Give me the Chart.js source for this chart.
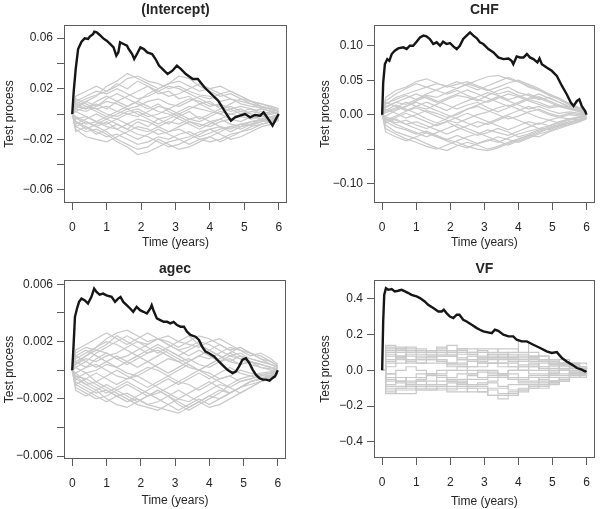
<!DOCTYPE html>
<html>
<head>
<meta charset="utf-8">
<script src="https://cdn.jsdelivr.net/npm/chart.js@4.4.0/dist/chart.umd.min.js"></script>
<style>
  html, body { margin: 0; padding: 0; background: #fff; }
  #wrap { position: relative; width: 600px; height: 509px; }
  canvas { position: absolute; }
</style>
</head>
<body>
<div id="wrap">
  <canvas id="c-intercept" width="300" height="255" style="left:0;top:0"></canvas>
  <canvas id="c-chf" width="300" height="255" style="left:300px;top:0"></canvas>
  <canvas id="c-agec" width="300" height="254" style="left:0;top:255px"></canvas>
  <canvas id="c-vf" width="300" height="254" style="left:300px;top:255px"></canvas>
</div>
<script>
// --- shared axis values ---
const xTicks = [0, 1, 2, 3, 4, 5, 6];
const xTickLabels = ['0', '1', '2', '3', '4', '5', '6'];
// time grid of the simulated (gray) processes
const simTime = [0, 0.1, 0.4, 0.7, 1.0, 1.3, 1.6, 1.9, 2.2, 2.5, 2.8, 3.1, 3.4, 3.7, 4.0, 4.3, 4.6, 4.9, 5.2, 5.5, 5.8, 6.0];

// --- (Intercept) ---
const interceptObsTime = [0, 0.04, 0.1, 0.17, 0.27, 0.36, 0.46, 0.51, 0.61, 0.64, 0.71, 0.8, 0.9, 1.0, 1.1, 1.2, 1.28, 1.34, 1.39, 1.49, 1.59, 1.64, 1.74, 1.8, 1.88, 1.98, 2.08, 2.18, 2.32, 2.42, 2.52, 2.67, 2.77, 2.91, 3.04, 3.16, 3.3, 3.5, 3.65, 3.84, 4.04, 4.24, 4.45, 4.61, 4.73, 4.87, 5.02, 5.17, 5.31, 5.46, 5.56, 5.66, 5.76, 5.82, 5.92, 6.0];
const interceptObsValue = [0, 0.017, 0.0355, 0.0513, 0.0571, 0.0597, 0.0592, 0.0611, 0.0632, 0.065, 0.0645, 0.0624, 0.0597, 0.0579, 0.0553, 0.0526, 0.0461, 0.0487, 0.0566, 0.0553, 0.054, 0.0513, 0.0474, 0.0434, 0.0474, 0.0526, 0.0513, 0.0487, 0.0474, 0.0434, 0.0382, 0.0342, 0.0316, 0.0342, 0.0382, 0.0355, 0.0316, 0.0276, 0.0276, 0.0211, 0.0158, 0.0105, 0.0013, -0.0053, -0.0026, -0.0013, 0, -0.0026, -0.0008, -0.0013, 0.0013, -0.0026, -0.0066, -0.0092, -0.0039, 0];
const interceptSims = [
  [0, 0.008, 0.012, 0.015, 0.018, 0.022, 0.028, 0.030, 0.026, 0.024, 0.020, 0.022, 0.018, 0.015, 0.014, 0.010, 0.012, 0.008, 0.006, 0.005, 0.004, 0.002],
  [0, -0.006, -0.010, -0.014, -0.018, -0.016, -0.020, -0.024, -0.022, -0.018, -0.020, -0.016, -0.014, -0.018, -0.015, -0.012, -0.010, -0.008, -0.009, -0.006, -0.004, -0.002],
  [0, 0.004, 0.002, 0.006, 0.010, 0.008, 0.004, 0.006, 0.010, 0.012, 0.008, 0.006, 0.010, 0.014, 0.012, 0.016, 0.018, 0.014, 0.010, 0.008, 0.006, 0.004],
  [0, -0.003, -0.008, -0.006, -0.002, -0.004, -0.008, -0.012, -0.014, -0.010, -0.006, -0.008, -0.004, -0.002, -0.006, -0.004, -0.008, -0.010, -0.006, -0.005, -0.006, -0.003],
  [0, 0.010, 0.014, 0.018, 0.016, 0.020, 0.016, 0.012, 0.014, 0.018, 0.022, 0.020, 0.016, 0.012, 0.008, 0.006, 0.002, 0.004, 0, -0.002, 0.001, 0],
  [0, -0.010, -0.014, -0.012, -0.016, -0.022, -0.026, -0.032, -0.030, -0.026, -0.022, -0.020, -0.018, -0.014, -0.012, -0.016, -0.020, -0.018, -0.014, -0.010, -0.008, -0.005],
  [0, 0.002, 0.006, 0.004, 0, -0.002, 0.002, 0.004, 0, -0.004, -0.002, 0.002, 0.006, 0.004, 0.002, 0, 0.004, 0.006, 0.004, 0.002, 0, 0.001],
  [0, 0.006, 0.010, 0.014, 0.022, 0.026, 0.032, 0.028, 0.024, 0.020, 0.024, 0.030, 0.028, 0.022, 0.018, 0.014, 0.016, 0.012, 0.010, 0.008, 0.005, 0.003],
  [0, -0.004, -0.002, -0.006, -0.010, -0.012, -0.008, -0.004, -0.006, -0.010, -0.014, -0.012, -0.016, -0.020, -0.022, -0.020, -0.016, -0.014, -0.010, -0.008, -0.006, -0.004],
  [0, 0.012, 0.008, 0.004, 0.006, 0.002, 0, -0.002, 0.002, 0.006, 0.004, 0.008, 0.012, 0.010, 0.006, 0.008, 0.004, 0, 0.002, 0.004, 0.002, 0],
  [0, -0.012, -0.018, -0.020, -0.022, -0.018, -0.014, -0.010, -0.012, -0.016, -0.014, -0.010, -0.006, -0.008, -0.010, -0.006, -0.004, -0.002, -0.004, -0.002, -0.003, -0.001],
  [0, 0.006, 0.004, 0.008, 0.004, 0.010, 0.014, 0.018, 0.022, 0.018, 0.014, 0.016, 0.020, 0.024, 0.020, 0.016, 0.012, 0.010, 0.008, 0.006, 0.004, 0.002],
  [0, -0.008, -0.004, 0, -0.004, -0.008, -0.012, -0.016, -0.018, -0.022, -0.026, -0.024, -0.020, -0.016, -0.012, -0.010, -0.012, -0.008, -0.006, -0.004, -0.002, -0.001],
  [0, 0.002, -0.002, -0.006, -0.008, -0.004, 0, 0.002, -0.002, 0, 0.004, 0, -0.004, -0.006, -0.002, 0.002, 0, -0.002, 0.002, 0, 0.002, 0],
  [0, 0.014, 0.018, 0.022, 0.018, 0.024, 0.020, 0.026, 0.022, 0.016, 0.018, 0.012, 0.014, 0.008, 0.010, 0.004, 0.006, 0.002, 0.004, 0, 0.002, 0],
  [0, -0.014, -0.010, -0.016, -0.012, -0.008, -0.012, -0.006, -0.010, -0.004, -0.008, -0.002, -0.006, -0.010, -0.006, -0.010, -0.014, -0.010, -0.008, -0.006, -0.004, -0.002],
  [0, 0.004, 0.010, 0.006, 0.012, 0.016, 0.012, 0.008, 0.004, 0.008, 0.002, -0.002, 0.002, -0.004, 0, 0.004, 0.008, 0.012, 0.008, 0.004, 0.002, 0.001],
  [0, -0.002, -0.006, -0.010, -0.006, -0.012, -0.016, -0.020, -0.016, -0.012, -0.016, -0.020, -0.024, -0.020, -0.018, -0.014, -0.010, -0.012, -0.008, -0.004, -0.005, -0.002],
  [0, 0.008, 0.004, 0.010, 0.014, 0.010, 0.006, 0.010, 0.016, 0.020, 0.024, 0.026, 0.022, 0.018, 0.020, 0.022, 0.018, 0.014, 0.010, 0.006, 0.003, 0.002],
  [0, -0.006, -0.012, -0.008, -0.004, 0, 0.004, 0, -0.004, -0.008, -0.004, 0, 0.004, 0.008, 0.004, 0, -0.004, -0.006, -0.002, -0.004, -0.002, 0],
  [0, 0.010, 0.006, 0.002, -0.002, 0.002, 0.006, 0.010, 0.006, 0.002, 0, -0.004, -0.008, -0.012, -0.008, -0.004, 0, 0.002, 0, -0.002, 0, 0.001],
  [0, -0.010, -0.006, -0.010, -0.014, -0.020, -0.024, -0.028, -0.026, -0.020, -0.024, -0.028, -0.026, -0.022, -0.018, -0.022, -0.018, -0.014, -0.012, -0.008, -0.006, -0.003]
];
const interceptYTicks = [-0.06, -0.04, -0.02, 0, 0.02, 0.04, 0.06];
const interceptYLabels = ['\u22120.06', '', '\u22120.02', '', '0.02', '', '0.06'];

// --- CHF ---
const chfObsTime = [0, 0.03, 0.08, 0.15, 0.21, 0.28, 0.37, 0.47, 0.62, 0.72, 0.81, 0.91, 1.01, 1.11, 1.21, 1.3, 1.4, 1.5, 1.6, 1.7, 1.79, 1.89, 1.99, 2.09, 2.19, 2.28, 2.38, 2.48, 2.58, 2.68, 2.78, 2.87, 2.97, 3.12, 3.27, 3.41, 3.56, 3.71, 3.8, 3.85, 3.95, 4.05, 4.15, 4.25, 4.34, 4.44, 4.56, 4.62, 4.69, 4.83, 4.98, 5.13, 5.28, 5.42, 5.54, 5.62, 5.72, 5.79, 5.86, 5.96, 6.0];
const chfObsValue = [0, 0.0466, 0.0733, 0.0806, 0.0781, 0.0879, 0.0927, 0.0961, 0.0976, 0.0951, 0.1, 0.1, 0.1058, 0.112, 0.1146, 0.1136, 0.1097, 0.1024, 0.1049, 0.1, 0.1058, 0.1024, 0.1039, 0.099, 0.0951, 0.1, 0.1097, 0.1146, 0.1194, 0.1146, 0.1107, 0.1049, 0.1024, 0.0951, 0.0903, 0.083, 0.0806, 0.0815, 0.0781, 0.0733, 0.0845, 0.083, 0.083, 0.0879, 0.083, 0.0806, 0.0757, 0.0815, 0.0733, 0.0684, 0.0636, 0.0563, 0.0417, 0.0296, 0.0175, 0.0126, 0.0199, 0.0223, 0.0126, 0.0053, 0];
const chfSims = [
  [0, 0.015, 0.025, 0.030, 0.035, 0.040, 0.045, 0.042, 0.038, 0.044, 0.050, 0.055, 0.057, 0.052, 0.048, 0.040, 0.035, 0.030, 0.022, 0.015, 0.010, 0.005],
  [0, -0.015, -0.025, -0.030, -0.035, -0.042, -0.048, -0.052, -0.045, -0.040, -0.044, -0.050, -0.046, -0.040, -0.035, -0.030, -0.032, -0.025, -0.020, -0.015, -0.010, -0.005],
  [0, 0.005, 0.010, 0.018, 0.012, 0.008, 0.015, 0.022, 0.028, 0.025, 0.020, 0.028, 0.035, 0.040, 0.032, 0.028, 0.022, 0.025, 0.018, 0.012, 0.008, 0.003],
  [0, -0.005, -0.012, -0.008, -0.015, -0.020, -0.014, -0.010, -0.018, -0.024, -0.030, -0.026, -0.020, -0.025, -0.032, -0.028, -0.022, -0.018, -0.014, -0.010, -0.008, -0.004],
  [0, 0.020, 0.030, 0.038, 0.045, 0.040, 0.035, 0.030, 0.035, 0.028, 0.022, 0.018, 0.024, 0.030, 0.026, 0.020, 0.015, 0.010, 0.012, 0.008, 0.004, 0],
  [0, -0.020, -0.028, -0.035, -0.040, -0.046, -0.050, -0.044, -0.038, -0.032, -0.028, -0.022, -0.026, -0.030, -0.024, -0.018, -0.012, -0.016, -0.010, -0.006, -0.008, -0.003],
  [0, 0.008, 0.002, -0.005, 0, 0.006, 0.002, -0.004, 0, 0.008, 0.012, 0.006, 0, -0.006, -0.002, 0.004, 0.008, 0.002, -0.002, 0.002, 0, 0.001],
  [0, -0.008, -0.002, 0.005, 0.010, 0.004, -0.002, -0.008, -0.012, -0.006, 0, 0.004, 0.010, 0.014, 0.008, 0.002, -0.004, -0.008, -0.004, -0.006, -0.003, -0.001],
  [0, 0.012, 0.018, 0.015, 0.022, 0.028, 0.025, 0.032, 0.038, 0.045, 0.040, 0.035, 0.040, 0.046, 0.050, 0.044, 0.038, 0.030, 0.024, 0.016, 0.010, 0.004],
  [0, -0.010, -0.018, -0.022, -0.028, -0.024, -0.030, -0.036, -0.040, -0.046, -0.050, -0.052, -0.048, -0.042, -0.036, -0.030, -0.024, -0.020, -0.015, -0.012, -0.008, -0.004],
  [0, 0.003, 0.008, 0.012, 0.020, 0.026, 0.020, 0.014, 0.008, 0.014, 0.018, 0.010, 0.004, 0.010, 0.016, 0.022, 0.018, 0.012, 0.014, 0.008, 0.006, 0.002],
  [0, -0.003, -0.008, -0.014, -0.010, -0.016, -0.022, -0.028, -0.022, -0.016, -0.010, -0.014, -0.008, -0.002, -0.008, -0.014, -0.020, -0.016, -0.012, -0.008, -0.004, -0.002],
  [0, 0.018, 0.012, 0.006, 0.012, 0.018, 0.012, 0.006, 0.014, 0.020, 0.026, 0.032, 0.028, 0.022, 0.026, 0.030, 0.024, 0.018, 0.012, 0.010, 0.005, 0.002],
  [0, -0.012, -0.006, -0.014, -0.020, -0.026, -0.032, -0.036, -0.030, -0.036, -0.042, -0.038, -0.032, -0.036, -0.040, -0.034, -0.028, -0.024, -0.018, -0.014, -0.010, -0.006],
  [0, 0.025, 0.035, 0.040, 0.048, 0.052, 0.046, 0.040, 0.044, 0.048, 0.042, 0.036, 0.030, 0.034, 0.028, 0.022, 0.026, 0.020, 0.014, 0.010, 0.006, 0.002],
  [0, -0.025, -0.032, -0.038, -0.032, -0.026, -0.032, -0.038, -0.044, -0.048, -0.042, -0.036, -0.040, -0.034, -0.028, -0.024, -0.020, -0.022, -0.016, -0.012, -0.006, -0.003],
  [0, 0.010, 0.018, 0.024, 0.030, 0.024, 0.018, 0.024, 0.030, 0.036, 0.030, 0.024, 0.018, 0.012, 0.018, 0.024, 0.030, 0.024, 0.018, 0.010, 0.006, 0.002],
  [0, -0.010, -0.004, 0.002, -0.004, -0.010, -0.016, -0.010, -0.004, 0.002, -0.004, -0.010, -0.016, -0.022, -0.016, -0.010, -0.014, -0.008, -0.012, -0.006, -0.004, -0.001],
  [0, 0.006, 0.014, 0.008, 0.002, -0.006, -0.012, -0.006, 0.002, 0.008, 0.014, 0.020, 0.026, 0.020, 0.014, 0.008, 0.012, 0.006, 0.002, 0.004, 0.002, 0],
  [0, -0.006, -0.014, -0.020, -0.026, -0.032, -0.026, -0.020, -0.014, -0.020, -0.026, -0.032, -0.038, -0.044, -0.038, -0.032, -0.026, -0.020, -0.016, -0.012, -0.008, -0.004],
  [0, 0.016, 0.022, 0.028, 0.022, 0.030, 0.036, 0.042, 0.048, 0.042, 0.036, 0.042, 0.048, 0.054, 0.048, 0.042, 0.036, 0.028, 0.022, 0.014, 0.008, 0.003],
  [0, -0.002, 0.006, 0.012, 0.018, 0.012, 0.006, 0, -0.006, -0.012, -0.018, -0.012, -0.006, 0, 0.006, 0.012, 0.006, 0, -0.004, 0, -0.002, 0]
];
const chfYTicks = [-0.10, -0.05, 0, 0.05, 0.10];
const chfYLabels = ['\u22120.10', '', '0.00', '0.05', '0.10'];

// --- agec ---
const agecObsTime = [0, 0.04, 0.08, 0.14, 0.2, 0.27, 0.36, 0.46, 0.56, 0.64, 0.71, 0.8, 0.9, 1.0, 1.15, 1.25, 1.34, 1.41, 1.49, 1.59, 1.69, 1.78, 1.88, 1.98, 2.08, 2.18, 2.28, 2.32, 2.37, 2.47, 2.57, 2.67, 2.77, 2.86, 2.96, 3.06, 3.16, 3.26, 3.35, 3.45, 3.6, 3.7, 3.79, 3.89, 3.99, 4.14, 4.28, 4.38, 4.53, 4.68, 4.78, 4.87, 4.97, 5.07, 5.17, 5.27, 5.36, 5.46, 5.56, 5.66, 5.76, 5.85, 5.92, 6.0];
const agecObsValue = [0, 0.00177, 0.00373, 0.00431, 0.00477, 0.005, 0.00489, 0.00466, 0.00512, 0.0057, 0.00547, 0.00528, 0.00535, 0.00523, 0.00512, 0.00477, 0.005, 0.00512, 0.00477, 0.00454, 0.00431, 0.00408, 0.00442, 0.00419, 0.00408, 0.00396, 0.00431, 0.00454, 0.00419, 0.00362, 0.0035, 0.00338, 0.00338, 0.00327, 0.00338, 0.00315, 0.00304, 0.00304, 0.00269, 0.00246, 0.00234, 0.00211, 0.00165, 0.00131, 0.00119, 0.00096, 0.00061, 0.00038, 0.00003, -0.0002, -0.00008, 0.00027, 0.00073, 0.00084, 0.0005, 0.00003, -0.00031, -0.00054, -0.00066, -0.00066, -0.00073, -0.00054, -0.00043, 0];
const agecSims = [
  [0, 0.0008, 0.0012, 0.0016, 0.0022, 0.0026, 0.0028, 0.0024, 0.0020, 0.0022, 0.0018, 0.0014, 0.0016, 0.0020, 0.0018, 0.0014, 0.0010, 0.0012, 0.0008, 0.0006, 0.0004, 0.0002],
  [0, -0.0008, -0.0012, -0.0016, -0.0014, -0.0018, -0.0022, -0.0020, -0.0024, -0.0026, -0.0028, -0.0030, -0.0026, -0.0022, -0.0018, -0.0020, -0.0016, -0.0012, -0.0010, -0.0008, -0.0005, -0.0003],
  [0, 0.0004, 0.0008, 0.0006, 0.0010, 0.0012, 0.0016, 0.0020, 0.0018, 0.0022, 0.0024, 0.0020, 0.0018, 0.0016, 0.0020, 0.0022, 0.0018, 0.0014, 0.0010, 0.0012, 0.0008, 0.0004],
  [0, -0.0004, -0.0006, -0.0010, -0.0014, -0.0018, -0.0016, -0.0020, -0.0024, -0.0022, -0.0018, -0.0014, -0.0018, -0.0022, -0.0026, -0.0024, -0.0020, -0.0016, -0.0012, -0.0008, -0.0006, -0.0002],
  [0, 0.0012, 0.0016, 0.0014, 0.0018, 0.0024, 0.0020, 0.0016, 0.0012, 0.0014, 0.0010, 0.0006, 0.0008, 0.0004, 0.0002, 0.0006, 0.0010, 0.0008, 0.0004, 0.0002, 0, -0.0001],
  [0, -0.0012, -0.0016, -0.0020, -0.0018, -0.0014, -0.0010, -0.0014, -0.0018, -0.0016, -0.0012, -0.0008, -0.0010, -0.0014, -0.0010, -0.0006, -0.0004, -0.0008, -0.0006, -0.0004, -0.0002, -0.0001],
  [0, 0.0002, -0.0002, 0, 0.0004, 0.0002, -0.0002, -0.0004, 0, 0.0004, 0.0008, 0.0006, 0.0002, 0, 0.0004, 0.0008, 0.0012, 0.0008, 0.0006, 0.0004, 0.0002, 0.0001],
  [0, -0.0002, 0.0002, 0.0004, 0, -0.0004, -0.0006, -0.0002, 0.0002, 0, -0.0004, -0.0008, -0.0004, 0, -0.0002, -0.0006, -0.0004, 0, -0.0002, -0.0003, -0.0002, 0],
  [0, 0.0006, 0.0010, 0.0014, 0.0012, 0.0008, 0.0010, 0.0014, 0.0018, 0.0022, 0.0020, 0.0016, 0.0020, 0.0024, 0.0022, 0.0018, 0.0014, 0.0016, 0.0012, 0.0008, 0.0006, 0.0003],
  [0, -0.0006, -0.0010, -0.0008, -0.0012, -0.0016, -0.0020, -0.0024, -0.0026, -0.0028, -0.0024, -0.0020, -0.0022, -0.0018, -0.0014, -0.0010, -0.0012, -0.0008, -0.0006, -0.0004, -0.0004, -0.0002],
  [0, 0.0010, 0.0006, 0.0002, 0.0006, 0.0010, 0.0006, 0.0002, 0.0006, 0.0010, 0.0014, 0.0010, 0.0006, 0.0010, 0.0014, 0.0010, 0.0006, 0.0004, 0.0006, 0.0004, 0.0002, 0],
  [0, -0.0010, -0.0006, -0.0002, -0.0006, -0.0010, -0.0006, -0.0004, -0.0008, -0.0012, -0.0016, -0.0020, -0.0016, -0.0012, -0.0008, -0.0012, -0.0016, -0.0012, -0.0008, -0.0006, -0.0004, -0.0002],
  [0, 0.0004, 0.0010, 0.0016, 0.0020, 0.0018, 0.0014, 0.0010, 0.0006, 0.0002, -0.0002, 0.0002, 0.0006, 0.0010, 0.0008, 0.0012, 0.0016, 0.0014, 0.0012, 0.0010, 0.0006, 0.0003],
  [0, -0.0004, -0.0010, -0.0014, -0.0020, -0.0024, -0.0026, -0.0022, -0.0018, -0.0014, -0.0018, -0.0024, -0.0028, -0.0024, -0.0020, -0.0016, -0.0010, -0.0006, -0.0004, -0.0006, -0.0004, -0.0002],
  [0, 0.0014, 0.0018, 0.0022, 0.0026, 0.0022, 0.0018, 0.0022, 0.0026, 0.0022, 0.0018, 0.0014, 0.0010, 0.0014, 0.0010, 0.0006, 0.0008, 0.0004, 0.0006, 0.0002, 0.0001, 0],
  [0, -0.0014, -0.0018, -0.0014, -0.0010, -0.0014, -0.0018, -0.0022, -0.0018, -0.0014, -0.0018, -0.0022, -0.0026, -0.0022, -0.0018, -0.0014, -0.0016, -0.0012, -0.0008, -0.0006, -0.0004, -0.0002],
  [0, 0.0006, 0.0002, 0.0008, 0.0012, 0.0008, 0.0004, 0.0008, 0.0012, 0.0016, 0.0012, 0.0008, 0.0004, 0, 0.0004, 0.0008, 0.0012, 0.0016, 0.0012, 0.0008, 0.0004, 0.0002],
  [0, -0.0006, -0.0002, -0.0008, -0.0004, 0, -0.0004, -0.0008, -0.0012, -0.0008, -0.0004, 0, 0.0004, 0, -0.0004, -0.0008, -0.0012, -0.0016, -0.0012, -0.0008, -0.0005, -0.0002],
  [0, 0.0002, 0.0006, 0.0012, 0.0016, 0.0020, 0.0024, 0.0020, 0.0016, 0.0012, 0.0016, 0.0020, 0.0024, 0.0018, 0.0014, 0.0018, 0.0014, 0.0010, 0.0008, 0.0006, 0.0004, 0.0002],
  [0, -0.0002, -0.0008, -0.0012, -0.0016, -0.0012, -0.0008, -0.0012, -0.0016, -0.0020, -0.0024, -0.0028, -0.0024, -0.0020, -0.0024, -0.0020, -0.0016, -0.0012, -0.0008, -0.0006, -0.0003, -0.0001],
  [0, 0.0010, 0.0014, 0.0010, 0.0006, 0.0002, 0.0006, 0.0010, 0.0014, 0.0018, 0.0014, 0.0010, 0.0014, 0.0018, 0.0014, 0.0010, 0.0006, 0.0010, 0.0006, 0.0004, 0.0002, 0.0001],
  [0, -0.0010, -0.0014, -0.0018, -0.0022, -0.0018, -0.0022, -0.0018, -0.0014, -0.0010, -0.0006, -0.0010, -0.0006, -0.0002, -0.0006, -0.0002, 0.0002, -0.0002, -0.0004, -0.0002, -0.0001, 0]
];
const agecYTicks = [-0.006, -0.004, -0.002, 0, 0.002, 0.004, 0.006];
const agecYLabels = ['\u22120.006', '', '\u22120.002', '', '0.002', '', '0.006'];

// --- VF ---
const vfObsTime = [0, 0.03, 0.06, 0.11, 0.18, 0.28, 0.37, 0.47, 0.57, 0.67, 0.77, 0.86, 1.01, 1.11, 1.25, 1.35, 1.5, 1.65, 1.75, 1.81, 1.89, 1.99, 2.09, 2.19, 2.27, 2.38, 2.48, 2.63, 2.78, 2.87, 2.97, 3.07, 3.22, 3.31, 3.41, 3.56, 3.71, 3.85, 3.95, 4.1, 4.25, 4.44, 4.64, 4.83, 4.98, 5.13, 5.28, 5.42, 5.57, 5.72, 5.86, 5.96, 6.0];
const vfObsValue = [0, 0.273, 0.422, 0.459, 0.45, 0.454, 0.441, 0.445, 0.45, 0.441, 0.432, 0.422, 0.413, 0.404, 0.385, 0.366, 0.348, 0.329, 0.329, 0.339, 0.32, 0.301, 0.292, 0.311, 0.311, 0.283, 0.273, 0.255, 0.236, 0.227, 0.218, 0.214, 0.208, 0.227, 0.221, 0.199, 0.19, 0.19, 0.171, 0.162, 0.162, 0.143, 0.125, 0.106, 0.097, 0.102, 0.069, 0.05, 0.032, 0.013, 0.004, -0.006, -0.002];
const vfSims = [
  [0, 0.10, 0.12, 0.12, 0.10, 0.10, 0.08, 0.08, 0.10, 0.10, 0.12, 0.12, 0.10, 0.08, 0.08, 0.06, 0.06, 0.04, 0.04, 0.02, 0.02, 0],
  [0, -0.10, -0.10, -0.08, -0.08, -0.10, -0.10, -0.12, -0.12, -0.10, -0.10, -0.14, -0.16, -0.14, -0.12, -0.10, -0.08, -0.08, -0.06, -0.04, -0.02, 0],
  [0, 0.06, 0.06, 0.04, 0.04, 0.06, 0.08, 0.08, 0.06, 0.06, 0.04, 0.04, 0.06, 0.10, 0.16, 0.10, 0.08, 0.06, 0.04, 0.04, 0.02, 0.02],
  [0, -0.06, -0.04, -0.04, -0.02, -0.02, -0.04, -0.06, -0.06, -0.08, -0.08, -0.06, -0.04, -0.04, -0.06, -0.06, -0.04, -0.02, -0.02, -0.02, -0.01, 0],
  [0, 0.14, 0.12, 0.10, 0.08, 0.08, 0.06, 0.04, 0.04, 0.02, 0.02, 0.04, 0.04, 0.02, 0, 0, 0.02, 0.02, 0, -0.02, -0.02, -0.01],
  [0, -0.12, -0.10, -0.10, -0.06, -0.06, -0.04, -0.04, -0.02, -0.02, 0, 0, -0.02, -0.02, -0.04, -0.04, -0.06, -0.06, -0.04, -0.04, -0.03, -0.02],
  [0, 0.02, 0.04, 0.06, 0.06, 0.08, 0.10, 0.10, 0.12, 0.12, 0.10, 0.08, 0.08, 0.06, 0.06, 0.08, 0.08, 0.06, 0.06, 0.04, 0.04, 0.03],
  [0, -0.02, -0.04, -0.06, -0.06, -0.08, -0.08, -0.10, -0.10, -0.12, -0.12, -0.10, -0.10, -0.08, -0.08, -0.10, -0.10, -0.06, -0.06, -0.04, -0.04, -0.02],
  [0, 0.08, 0.10, 0.08, 0.06, 0.04, 0.04, 0.02, 0.02, 0, 0, -0.02, -0.02, 0, 0.02, 0.02, 0.04, 0.04, 0.02, 0.02, 0, 0],
  [0, -0.08, -0.06, -0.04, -0.04, -0.02, 0, 0, 0.02, 0.02, 0.04, 0.04, 0.02, 0.02, 0, -0.02, -0.02, -0.04, -0.04, -0.02, -0.02, -0.01],
  [0, 0.04, 0.08, 0.10, 0.12, 0.10, 0.12, 0.14, 0.12, 0.10, 0.08, 0.10, 0.12, 0.12, 0.10, 0.08, 0.06, 0.06, 0.04, 0.02, 0.02, 0.01],
  [0, -0.04, -0.06, -0.08, -0.10, -0.08, -0.06, -0.06, -0.08, -0.10, -0.12, -0.14, -0.14, -0.12, -0.10, -0.08, -0.08, -0.06, -0.04, -0.04, -0.02, -0.01],
  [0, 0.12, 0.08, 0.06, 0.04, 0.06, 0.06, 0.04, 0.06, 0.08, 0.06, 0.06, 0.04, 0.04, 0.02, 0.04, 0.02, 0, 0, 0.02, 0, 0],
  [0, -0.02, 0, 0.02, 0, -0.02, -0.02, 0, 0, -0.02, -0.04, -0.04, -0.02, 0, 0, 0.02, 0, -0.02, 0, 0, -0.01, 0],
  [0, 0.13, 0.13, 0.11, 0.11, 0.09, 0.09, 0.11, 0.11, 0.09, 0.07, 0.07, 0.09, 0.09, 0.07, 0.05, 0.05, 0.03, 0.03, 0.01, 0.01, 0],
  [0, -0.13, -0.11, -0.11, -0.09, -0.09, -0.11, -0.11, -0.09, -0.09, -0.07, -0.07, -0.09, -0.11, -0.11, -0.09, -0.07, -0.07, -0.05, -0.03, -0.03, -0.02],
  [0, 0.05, 0.07, 0.09, 0.09, 0.11, 0.11, 0.09, 0.07, 0.05, 0.05, 0.07, 0.07, 0.05, 0.03, 0.03, 0.01, 0.01, 0.03, 0.03, 0.02, 0.01],
  [0, -0.05, -0.07, -0.09, -0.11, -0.11, -0.09, -0.09, -0.07, -0.05, -0.05, -0.03, -0.03, -0.05, -0.07, -0.07, -0.05, -0.03, -0.03, -0.01, -0.01, 0],
  [0, 0.09, 0.07, 0.05, 0.07, 0.07, 0.05, 0.03, 0.03, 0.05, 0.07, 0.09, 0.09, 0.07, 0.05, 0.07, 0.05, 0.03, 0.01, 0.01, 0.01, 0],
  [0, -0.09, -0.09, -0.07, -0.05, -0.03, -0.03, -0.05, -0.05, -0.03, -0.01, -0.01, -0.03, -0.05, -0.05, -0.03, -0.03, -0.01, 0.01, -0.01, -0.01, 0],
  [0, 0.11, 0.11, 0.13, 0.11, 0.11, 0.13, 0.11, 0.09, 0.09, 0.11, 0.09, 0.07, 0.07, 0.09, 0.07, 0.05, 0.05, 0.03, 0.03, 0.02, 0.01],
  [0, -0.11, -0.13, -0.13, -0.11, -0.11, -0.09, -0.07, -0.07, -0.09, -0.09, -0.11, -0.13, -0.13, -0.11, -0.09, -0.09, -0.07, -0.05, -0.03, -0.02, -0.01]
];
const vfYTicks = [-0.4, -0.2, 0, 0.2, 0.4];
const vfYLabels = ['\u22120.4', '\u22120.2', '0.0', '0.2', '0.4'];

// --- styling ---
const FONT = '"Liberation Sans", Arial, Helvetica, sans-serif';
const TEXT = '#262626';
const AXIS = '#5c5c5c';
const GRAY = '#c9c9c9';
const BLACK = '#161616';

// box around the plot region + bold panel title
const framePlugin = {
    id: 'frame',
    afterDraw(chart, args, opts) {
        const { ctx, chartArea: a } = chart;
        ctx.save();
        ctx.strokeStyle = AXIS;
        ctx.lineWidth = 1;
        ctx.strokeRect(Math.round(a.left) + 0.5, Math.round(a.top) + 0.5,
            Math.round(a.right) - Math.round(a.left) - 1, Math.round(a.bottom) - Math.round(a.top) - 1);
        ctx.fillStyle = TEXT;
        ctx.font = 'bold 14px ' + FONT;
        ctx.textAlign = 'center';
        ctx.textBaseline = 'alphabetic';
        ctx.fillText(opts.text, (a.left + a.right) / 2, opts.baseline);
        ctx.restore();
    }
};

function zip(times, values) {
    return times.map((t, i) => ({ x: t, y: values[i] }));
}

function renderPanel(p) {
    const ctx = document.getElementById(p.id).getContext('2d');
    const datasets = p.sims.map(s => ({
        data: zip(simTime, s),
        borderColor: GRAY,
        borderWidth: 1.2,
        pointRadius: 0,
        stepped: p.stepped,
        order: 1
    }));
    datasets.push({
        data: zip(p.obsTime, p.obsValue),
        borderColor: BLACK,
        borderWidth: 2.4,
        pointRadius: 0,
        order: 0
    });

    new Chart(ctx, {
        type: 'line',
        data: { datasets },
        options: {
            responsive: false,
            animation: false,
            events: [],
            layout: { padding: { left: p.padLeft, right: p.padRight, top: 25, bottom: 0 } },
            plugins: {
                legend: { display: false },
                tooltip: { enabled: false },
                frame: { text: p.title, baseline: p.titleBaseline }
            },
            scales: {
                x: {
                    type: 'linear',
                    min: -0.24,
                    max: 6.24,
                    afterBuildTicks: s => { s.ticks = xTicks.map(v => ({ value: v })); },
                    afterFit: s => { s.height = p.xHeight; },
                    grid: { drawOnChartArea: false, drawTicks: true, tickLength: 7, color: AXIS },
                    border: { display: false },
                    ticks: {
                        autoSkip: false, maxRotation: 0, padding: 10, color: TEXT,
                        font: { family: FONT, size: 12 },
                        callback: (v, i) => xTickLabels[i]
                    },
                    title: {
                        display: true, text: 'Time (years)', color: TEXT,
                        font: { family: FONT, size: 12 },
                        padding: { top: 0, bottom: p.xTitleBottom }
                    }
                },
                y: {
                    type: 'linear',
                    min: p.yMin,
                    max: p.yMax,
                    afterBuildTicks: s => { s.ticks = p.yTicks.map(v => ({ value: v })); },
                    afterFit: s => { s.width = p.yWidth; },
                    grid: { drawOnChartArea: false, drawTicks: true, tickLength: 7, color: AXIS },
                    border: { display: false },
                    ticks: {
                        autoSkip: false, padding: 4, color: TEXT,
                        font: { family: FONT, size: 12 },
                        callback: (v, i) => p.yLabels[i]
                    },
                    title: {
                        display: true, text: 'Test process', color: TEXT,
                        font: { family: FONT, size: 12 },
                        padding: { top: 2, bottom: 0 }
                    }
                }
            }
        },
        plugins: [framePlugin]
    });
}

renderPanel({
    id: 'c-intercept', title: '(Intercept)', titleBaseline: 13.5,
    obsTime: interceptObsTime, obsValue: interceptObsValue, sims: interceptSims, stepped: false,
    yMin: -0.0703, yMax: 0.0703, yTicks: interceptYTicks, yLabels: interceptYLabels,
    padLeft: 0, yWidth: 64, padRight: 13, xHeight: 52, xTitleBottom: 5.5
});
renderPanel({
    id: 'c-chf', title: 'CHF', titleBaseline: 13.5,
    obsTime: chfObsTime, obsValue: chfObsValue, sims: chfSims, stepped: false,
    yMin: -0.128, yMax: 0.130, yTicks: chfYTicks, yLabels: chfYLabels,
    padLeft: 16, yWidth: 58, padRight: 5, xHeight: 52, xTitleBottom: 5.5
});
renderPanel({
    id: 'c-agec', title: 'agec', titleBaseline: 17.5,
    obsTime: agecObsTime, obsValue: agecObsValue, sims: agecSims, stepped: false,
    yMin: -0.0062, yMax: 0.0063, yTicks: agecYTicks, yLabels: agecYLabels,
    padLeft: 0, yWidth: 64, padRight: 14, xHeight: 50, xTitleBottom: 1
});
renderPanel({
    id: 'c-vf', title: 'VF', titleBaseline: 17.5,
    obsTime: vfObsTime, obsValue: vfObsValue, sims: vfSims, stepped: true,
    yMin: -0.49, yMax: 0.505, yTicks: vfYTicks, yLabels: vfYLabels,
    padLeft: 16, yWidth: 58, padRight: 5, xHeight: 51, xTitleBottom: 0
});
</script>
</body>
</html>
